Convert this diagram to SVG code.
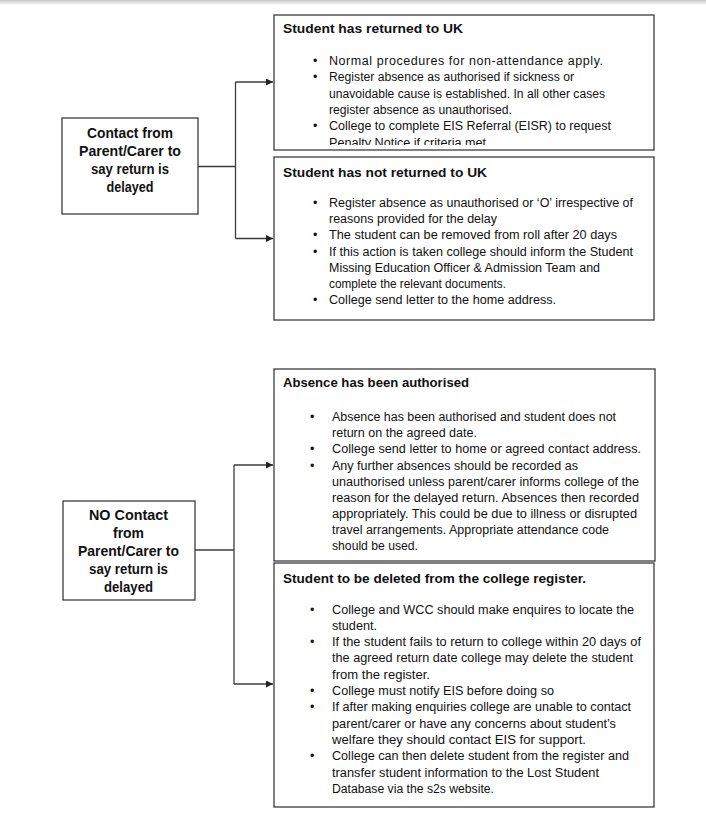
<svg xmlns="http://www.w3.org/2000/svg" width="706" height="828" viewBox="0 0 706 828">
<style>
.box{fill:#fff;stroke:#3c3c3c;stroke-width:1.3}
.t{font-family:"Liberation Sans",Arial,sans-serif;font-size:12.5px;fill:#111}
.h{font-family:"Liberation Sans",Arial,sans-serif;font-size:13.5px;font-weight:bold;fill:#111}
.c{font-family:"Liberation Sans",Arial,sans-serif;font-size:13.8px;font-weight:bold;fill:#111;text-anchor:middle}
.ln{fill:none;stroke:#3c3c3c;stroke-width:1.3}
</style>
<defs>
<linearGradient id="sh" x1="0" y1="0" x2="0" y2="1">
<stop offset="0" stop-color="#c4c4c4"/><stop offset="1" stop-color="#ffffff"/>
</linearGradient>
<marker id="ah" markerWidth="8" markerHeight="8" refX="7" refY="3.5" orient="auto" markerUnits="userSpaceOnUse">
<path d="M0,0 L7,3.5 L0,7 z" fill="#222"/>
</marker>
<clipPath id="c1"><rect x="274" y="15" width="380" height="130"/></clipPath>
</defs>
<rect width="706" height="828" fill="#fff"/>
<rect width="706" height="5" fill="url(#sh)"/>

<g id="connectors">
<path class="ln" d="M198,166.5 H235.5 M235.5,82 V238.5"/>
<path class="ln" d="M235.5,82 H273" marker-end="url(#ah)"/>
<path class="ln" d="M235.5,238.5 H273" marker-end="url(#ah)"/>
<path class="ln" d="M195,550 H234 M234,465 V684"/>
<path class="ln" d="M234,465 H273" marker-end="url(#ah)"/>
<path class="ln" d="M234,684 H273" marker-end="url(#ah)"/>
</g>

<g id="contact">
<rect class="box" x="62" y="118" width="136" height="96"/>
<text class="c" x="130" y="137.5" textLength="86" lengthAdjust="spacingAndGlyphs">Contact from</text>
<text class="c" x="130" y="155.5" textLength="102" lengthAdjust="spacingAndGlyphs">Parent/Carer to</text>
<text class="c" x="130" y="173.5" textLength="78" lengthAdjust="spacingAndGlyphs">say return is</text>
<text class="c" x="130" y="191.5" textLength="47" lengthAdjust="spacingAndGlyphs">delayed</text>
</g>

<g id="returned">
<rect class="box" x="274" y="15" width="380" height="135"/>
<g clip-path="url(#c1)">
<text class="h" x="283" y="33" textLength="180" lengthAdjust="spacingAndGlyphs">Student has returned to UK</text>
<text class="t" x="313" y="65">•</text><text class="t" x="329" y="65" textLength="274" lengthAdjust="spacing">Normal procedures for non-attendance apply.</text>
<text class="t" x="313" y="81">•</text><text class="t" x="329" y="81" textLength="245" lengthAdjust="spacingAndGlyphs">Register absence as authorised if sickness or</text>
<text class="t" x="329" y="97.5" textLength="276" lengthAdjust="spacingAndGlyphs">unavoidable cause is established. In all other cases</text>
<text class="t" x="329" y="114" textLength="183" lengthAdjust="spacingAndGlyphs">register absence as unauthorised.</text>
<text class="t" x="313" y="130">•</text><text class="t" x="329" y="130" textLength="282" lengthAdjust="spacingAndGlyphs">College to complete EIS Referral (EISR) to request</text>
<text class="t" x="329" y="147" textLength="157" lengthAdjust="spacingAndGlyphs">Penalty Notice if criteria met</text>
</g>
</g>

<g id="not-returned">
<rect class="box" x="274" y="157" width="380" height="163"/>
<text class="h" x="283" y="177" textLength="204" lengthAdjust="spacingAndGlyphs">Student has not returned to UK</text>
<text class="t" x="313" y="207">•</text><text class="t" x="329" y="207" textLength="304" lengthAdjust="spacingAndGlyphs">Register absence as unauthorised or ‘O’ irrespective of</text>
<text class="t" x="329" y="223" textLength="168" lengthAdjust="spacingAndGlyphs">reasons provided for the delay</text>
<text class="t" x="313" y="239">•</text><text class="t" x="329" y="239" textLength="288" lengthAdjust="spacingAndGlyphs">The student can be removed from roll after 20 days</text>
<text class="t" x="313" y="255.5">•</text><text class="t" x="329" y="255.5" textLength="304" lengthAdjust="spacingAndGlyphs">If this action is taken college should inform the Student</text>
<text class="t" x="329" y="271.5" textLength="271" lengthAdjust="spacingAndGlyphs">Missing Education Officer &amp; Admission Team and</text>
<text class="t" x="329" y="288" textLength="177" lengthAdjust="spacingAndGlyphs">complete the relevant documents.</text>
<text class="t" x="313" y="304">•</text><text class="t" x="329" y="304" textLength="227" lengthAdjust="spacingAndGlyphs">College send letter to the home address.</text>
</g>

<g id="no-contact">
<rect class="box" x="63" y="501" width="132" height="99"/>
<text class="c" x="128.5" y="519.5" textLength="79" lengthAdjust="spacingAndGlyphs">NO Contact</text>
<text class="c" x="128.5" y="537.5" textLength="31" lengthAdjust="spacingAndGlyphs">from</text>
<text class="c" x="128.5" y="555.5" textLength="101" lengthAdjust="spacingAndGlyphs">Parent/Carer to</text>
<text class="c" x="128.5" y="573.5" textLength="79" lengthAdjust="spacingAndGlyphs">say return is</text>
<text class="c" x="128.5" y="591.5" textLength="49" lengthAdjust="spacingAndGlyphs">delayed</text>
</g>

<g id="authorised">
<rect class="box" x="274" y="369" width="381" height="192"/>
<text class="h" x="283" y="386.5" textLength="186" lengthAdjust="spacingAndGlyphs">Absence has been authorised</text>
<text class="t" x="310" y="421">•</text><text class="t" x="332" y="421" textLength="284" lengthAdjust="spacingAndGlyphs">Absence has been authorised and student does not</text>
<text class="t" x="332" y="437" textLength="145" lengthAdjust="spacingAndGlyphs">return on the agreed date.</text>
<text class="t" x="310" y="453">•</text><text class="t" x="332" y="453" textLength="309" lengthAdjust="spacingAndGlyphs">College send letter to home or agreed contact address.</text>
<text class="t" x="310" y="469.5">•</text><text class="t" x="332" y="469.5" textLength="246" lengthAdjust="spacingAndGlyphs">Any further absences should be recorded as</text>
<text class="t" x="332" y="485.5" textLength="307" lengthAdjust="spacingAndGlyphs">unauthorised unless parent/carer informs college of the</text>
<text class="t" x="332" y="501.5" textLength="307" lengthAdjust="spacingAndGlyphs">reason for the delayed return. Absences then recorded</text>
<text class="t" x="332" y="517.5" textLength="305" lengthAdjust="spacingAndGlyphs">appropriately. This could be due to illness or disrupted</text>
<text class="t" x="332" y="534" textLength="277" lengthAdjust="spacingAndGlyphs">travel arrangements. Appropriate attendance code</text>
<text class="t" x="332" y="550" textLength="86" lengthAdjust="spacingAndGlyphs">should be used.</text>
</g>

<g id="deleted">
<rect class="box" x="274" y="563" width="380" height="244"/>
<text class="h" x="283" y="583" textLength="303" lengthAdjust="spacingAndGlyphs">Student to be deleted from the college register.</text>
<text class="t" x="310" y="613.5">•</text><text class="t" x="332" y="613.5" textLength="302" lengthAdjust="spacingAndGlyphs">College and WCC should make enquires to locate the</text>
<text class="t" x="332" y="629.5" textLength="45" lengthAdjust="spacingAndGlyphs">student.</text>
<text class="t" x="310" y="646">•</text><text class="t" x="332" y="646" textLength="309" lengthAdjust="spacingAndGlyphs">If the student fails to return to college within 20 days of</text>
<text class="t" x="332" y="662" textLength="301" lengthAdjust="spacingAndGlyphs">the agreed return date college may delete the student</text>
<text class="t" x="332" y="678.5" textLength="98" lengthAdjust="spacingAndGlyphs">from the register.</text>
<text class="t" x="310" y="695">•</text><text class="t" x="332" y="695" textLength="222" lengthAdjust="spacingAndGlyphs">College must notify EIS before doing so</text>
<text class="t" x="310" y="711">•</text><text class="t" x="332" y="711" textLength="299" lengthAdjust="spacingAndGlyphs">If after making enquiries college are unable to contact</text>
<text class="t" x="332" y="727.5" textLength="284" lengthAdjust="spacingAndGlyphs">parent/carer or have any concerns about student’s</text>
<text class="t" x="332" y="744" textLength="254" lengthAdjust="spacingAndGlyphs">welfare they should contact EIS for support.</text>
<text class="t" x="310" y="760">•</text><text class="t" x="332" y="760" textLength="297" lengthAdjust="spacingAndGlyphs">College can then delete student from the register and</text>
<text class="t" x="332" y="776.5" textLength="267" lengthAdjust="spacingAndGlyphs">transfer student information to the Lost Student</text>
<text class="t" x="332" y="792.5" textLength="162" lengthAdjust="spacingAndGlyphs">Database via the s2s website.</text>
</g>
</svg>
